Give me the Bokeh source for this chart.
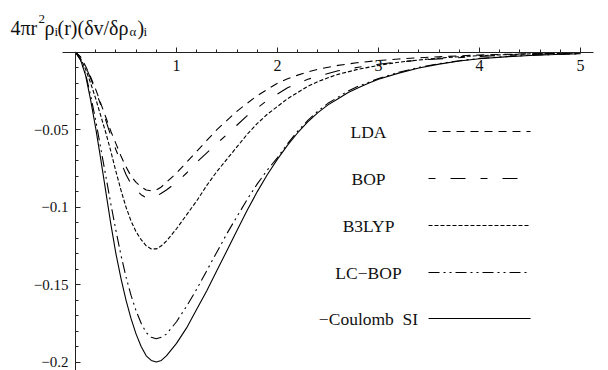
from bokeh.plotting import figure
from bokeh.models import Range1d, FixedTicker, Label, LinearAxis, CustomJSTickFormatter
from bokeh.embed import file_html
from bokeh.resources import INLINE

# ---------------- data ----------------
series_names = ["LDA", "BOP", "B3LYP", "LC\u2212BOP", "\u2212Coulomb\u00a0 SI"]

lda_r = [0, 0.05, 0.1, 0.15, 0.2, 0.25, 0.3, 0.35, 0.4, 0.45, 0.5, 0.55, 0.6, 0.65, 0.7, 0.75, 0.8, 0.85, 0.9, 1.0,
         1.1, 1.2, 1.3, 1.4, 1.5, 1.6, 1.7, 1.8, 1.9, 2.0, 2.1, 2.2, 2.3, 2.4, 2.6, 2.8, 3.0, 3.2, 3.5, 4.0, 4.5, 5.0]
lda_v = [0, -0.003, -0.009, -0.016, -0.024, -0.033, -0.042, -0.051, -0.059, -0.067, -0.074, -0.080, -0.084, -0.087,
         -0.089, -0.0895, -0.089, -0.087, -0.084, -0.078, -0.071, -0.064, -0.057, -0.050, -0.044, -0.038, -0.033,
         -0.028, -0.024, -0.020, -0.0172, -0.0148, -0.0127, -0.011, -0.0085, -0.0067, -0.0054, -0.0044, -0.0032,
         -0.0018, -0.001, -0.0005]

bop_r = [0, 0.05, 0.1, 0.15, 0.2, 0.25, 0.3, 0.35, 0.4, 0.45, 0.5, 0.55, 0.6, 0.65, 0.7, 0.75, 0.8, 0.85, 0.9, 1.0,
         1.1, 1.2, 1.3, 1.4, 1.5, 1.6, 1.7, 1.8, 1.9, 2.0, 2.1, 2.2, 2.3, 2.4, 2.6, 2.8, 3.0, 3.2, 3.5, 4.0, 4.5, 5.0]
bop_v = [0, -0.003, -0.009, -0.017, -0.025, -0.034, -0.044, -0.054, -0.063, -0.071, -0.079, -0.085, -0.089, -0.092,
         -0.094, -0.094, -0.093, -0.091, -0.089, -0.084, -0.078, -0.071, -0.065, -0.059, -0.053, -0.047, -0.041,
         -0.036, -0.031, -0.027, -0.023, -0.020, -0.0175, -0.0155, -0.012, -0.0097, -0.0078, -0.0063, -0.0047,
         -0.0027, -0.0014, -0.0007]

b3lyp_r = [0, 0.05, 0.1, 0.15, 0.2, 0.25, 0.3, 0.35, 0.4, 0.45, 0.5, 0.55, 0.6, 0.65, 0.7, 0.75, 0.8, 0.85, 0.9, 0.95,
           1.0, 1.1, 1.2, 1.3, 1.4, 1.5, 1.6, 1.7, 1.8, 1.9, 2.0, 2.1, 2.2, 2.3, 2.4, 2.5, 2.6, 2.8, 3.0, 3.2, 3.4,
           3.6, 3.8, 4.0, 4.5, 5.0]
b3lyp_v = [0, -0.004, -0.011, -0.020, -0.030, -0.041, -0.052, -0.064, -0.077, -0.089, -0.100, -0.109, -0.116, -0.121,
           -0.125, -0.127, -0.127, -0.125, -0.122, -0.118, -0.114, -0.105, -0.096, -0.086, -0.077, -0.069, -0.061,
           -0.053, -0.046, -0.040, -0.035, -0.030, -0.026, -0.022, -0.019, -0.0165, -0.0143, -0.011, -0.0085,
           -0.0065, -0.005, -0.0038, -0.0029, -0.0022, -0.0011, -0.0005]

lcbop_r = [0, 0.05, 0.1, 0.15, 0.2, 0.25, 0.3, 0.35, 0.4, 0.45, 0.5, 0.55, 0.6, 0.65, 0.7, 0.75, 0.8, 0.85, 0.9, 0.95,
           1.0, 1.1, 1.2, 1.3, 1.4, 1.5, 1.6, 1.7, 1.8, 1.9, 2.0, 2.1, 2.2, 2.3, 2.4, 2.5, 2.6, 2.7, 2.8, 2.9, 3.0,
           3.2, 3.4, 3.6, 3.8, 4.0, 4.25, 4.5, 4.75, 5.0]
lcbop_v = [0, -0.005, -0.014, -0.028, -0.044, -0.062, -0.080, -0.098, -0.115, -0.131, -0.145, -0.157, -0.167, -0.175,
           -0.181, -0.184, -0.185, -0.184, -0.182, -0.178, -0.174, -0.164, -0.153, -0.141, -0.129, -0.117, -0.106,
           -0.095, -0.085, -0.076, -0.068, -0.059, -0.051, -0.044, -0.038, -0.033, -0.029, -0.025, -0.022, -0.0195,
           -0.017, -0.013, -0.0098, -0.0074, -0.0055, -0.004, -0.0029, -0.002, -0.0014, -0.001]

csi_r = [0, 0.05, 0.1, 0.15, 0.2, 0.25, 0.3, 0.35, 0.4, 0.45, 0.5, 0.55, 0.6, 0.65, 0.7, 0.75, 0.8, 0.85, 0.9, 0.95,
         1.0, 1.1, 1.2, 1.3, 1.4, 1.5, 1.6, 1.7, 1.8, 1.9, 2.0, 2.1, 2.2, 2.3, 2.4, 2.5, 2.6, 2.7, 2.8, 2.9, 3.0,
         3.2, 3.4, 3.6, 3.8, 4.0, 4.25, 4.5, 4.75, 5.0]
csi_v = [0, -0.005, -0.015, -0.031, -0.049, -0.069, -0.090, -0.111, -0.130, -0.146, -0.160, -0.172, -0.182, -0.190,
         -0.196, -0.199, -0.200, -0.199, -0.196, -0.192, -0.188, -0.178, -0.166, -0.154, -0.141, -0.128, -0.115,
         -0.102, -0.090, -0.079, -0.069, -0.060, -0.052, -0.045, -0.039, -0.034, -0.030, -0.026, -0.023, -0.020,
         -0.0175, -0.0135, -0.0102, -0.0077, -0.0057, -0.0042, -0.003, -0.0021, -0.0015, -0.001]

x_ticks = [1, 2, 3, 4, 5]
x_tick_labels = ["1", "2", "3", "4", "5"]
x_minor = [0.2, 0.4, 0.6, 0.8, 1.2, 1.4, 1.6, 1.8, 2.2, 2.4, 2.6, 2.8, 3.2, 3.4, 3.6, 3.8, 4.2, 4.4, 4.6, 4.8]
y_ticks = [-0.05, -0.1, -0.15, -0.2]
y_tick_labels = ["\u22120.05", "\u22120.1", "\u22120.15", "\u22120.2"]
y_minor = [-0.01, -0.02, -0.03, -0.04, -0.06, -0.07, -0.08, -0.09, -0.11, -0.12, -0.13, -0.14, -0.16, -0.17, -0.18, -0.19]

# ---------------- layout ----------------
W, H = 608, 370
X0PX, Y0PX = 75.0, 51.7     # pixel position of the origin
XS = 101.0                  # pixels per unit of r
YS = (361.5 - Y0PX) / 0.2   # pixels per unit of the y quantity


def px2x(px):
    return (px - X0PX) / XS


def py2y(py):
    return -(py - Y0PX) / YS


p = figure(width=W, height=H, output_backend="svg", toolbar_location=None,
           x_range=Range1d(px2x(0), px2x(W)), y_range=Range1d(py2y(H), py2y(0)),
           min_border=0, x_axis_location=None, y_axis_location=None)
p.outline_line_color = None
p.xgrid.visible = False
p.ygrid.visible = False
p.background_fill_color = "white"
p.border_fill_color = "white"

FONT = "Liberation Serif"
fmt_code = """
const i = tks.findIndex(t => Math.abs(t - tick) < 1e-9);
return i >= 0 ? lbls[i] : '';
"""

xaxis = LinearAxis(fixed_location=0,
                   ticker=FixedTicker(ticks=x_ticks, minor_ticks=x_minor),
                   formatter=CustomJSTickFormatter(args=dict(tks=x_ticks, lbls=x_tick_labels), code=fmt_code),
                   bounds=(px2x(62), px2x(593)))
yaxis = LinearAxis(fixed_location=0,
                   ticker=FixedTicker(ticks=y_ticks, minor_ticks=y_minor),
                   formatter=CustomJSTickFormatter(args=dict(tks=y_ticks, lbls=y_tick_labels), code=fmt_code),
                   bounds=(py2y(H), 0))
for ax in (xaxis, yaxis):
    ax.axis_line_color = "#222222"
    ax.axis_line_width = 1
    ax.major_tick_line_color = "#222222"
    ax.minor_tick_line_color = "#222222"
    ax.major_tick_in = 5
    ax.major_tick_out = 0
    ax.minor_tick_in = 3
    ax.minor_tick_out = 0
    ax.major_label_text_font = FONT
    ax.major_label_text_color = "#111111"
xaxis.major_label_text_font_size = "16px"
yaxis.major_label_text_font_size = "15px"
xaxis.major_label_standoff = 8
yaxis.major_label_standoff = 7
p.add_layout(xaxis, "below")
p.add_layout(yaxis, "left")

# ---------------- curves ----------------
curves = [
    (lda_r, lda_v, "8 6"),
    (bop_r, bop_v, "7 15 15 15"),
    (b3lyp_r, b3lyp_v, "4 2"),
    (lcbop_r, lcbop_v, "11 4 2 4 2 4"),
    (csi_r, csi_v, "solid"),
]
for r, v, dash in curves:
    p.line(r, v, line_color="black", line_width=1.1, line_dash=dash)

# ---------------- legend (drawn by hand, label left, sample right) ----------------
leg_y = [131, 178, 225, 272, 318]
leg_end = [530, 520, 529, 530, 530]
for name, (r, v, dash), ly, le in zip(series_names, curves, leg_y, leg_end):
    p.add_layout(Label(x=368, y=H - ly, x_units="screen", y_units="screen", text=name,
                       text_align="center", text_baseline="middle",
                       text_font=FONT, text_font_size="17.5px", text_color="#111111"))
    p.line([px2x(428), px2x(le)], [py2y(ly), py2y(ly)], line_color="black",
           line_width=1.1, line_dash=dash)

# ---------------- axis title (with sub/superscripts) ----------------
title_parts = [
    ("4\u03c0r", 10, 27, "20px"),
    ("2", 38, 18, "13px"),
    ("\u03c1", 44, 27, "20px"),
    ("i", 54, 31, "13px"),
    ("(r)(\u03b4v/\u03b4\u03c1", 57, 27, "20px"),
    ("\u03b1", 129, 31, "13px"),
    (")", 137, 27, "20px"),
    ("i", 143, 31, "13px"),
]
for txt, tx, ty, fs in title_parts:
    p.add_layout(Label(x=tx, y=H - ty, x_units="screen", y_units="screen", text=txt,
                       text_align="left", text_baseline="alphabetic",
                       text_font=FONT, text_font_size=fs, text_color="#111111"))

open("out.html", "w").write(file_html(p, INLINE))
